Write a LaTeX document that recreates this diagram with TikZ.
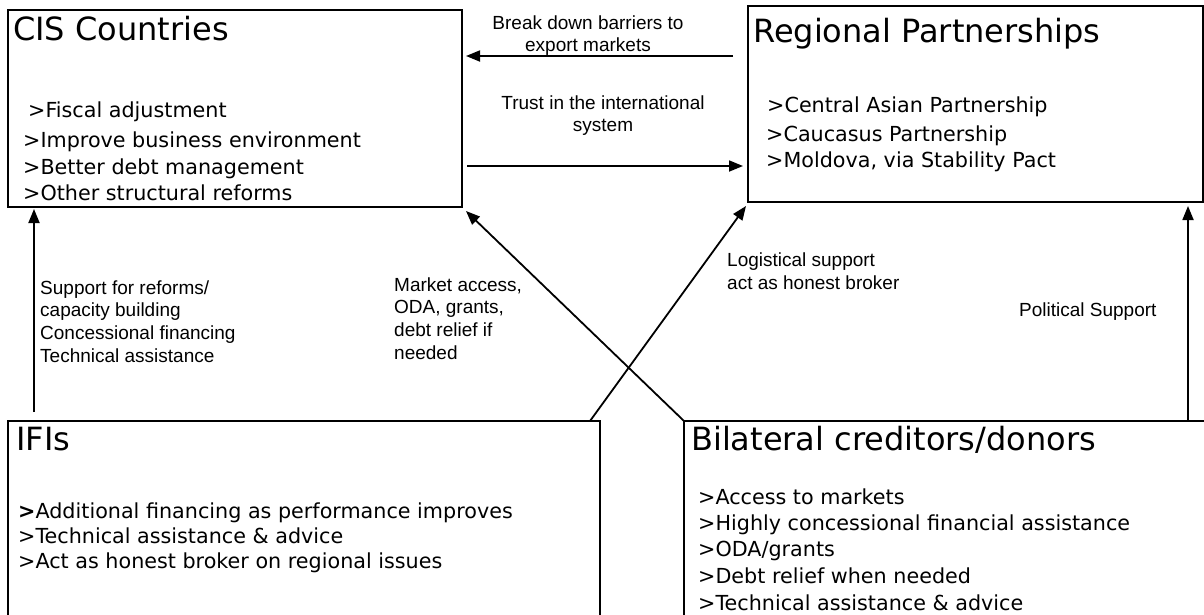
\documentclass[tikz,border=0pt]{standalone}
\usepackage{fontspec}
\usetikzlibrary{arrows.meta}
\newfontfamily\boxfont{DejaVu Sans}
\newfontfamily\lblfont{Liberation Sans}
\tikzset{
  box/.style={draw, line width=2pt, rectangle, anchor=north west, inner sep=0pt, outer sep=0pt},
  ttl/.style={font=\boxfont\fontsize{32}{38}\selectfont, inner sep=0pt, anchor=base west},
  itm/.style={font=\boxfont\fontsize{20.7}{25}\selectfont, inner sep=0pt, anchor=base west},
  lbl/.style={font=\lblfont\fontsize{19}{23}\selectfont, inner sep=0pt, anchor=base west},
  lblc/.style={lbl, anchor=base},
  arr/.style={line width=1.8pt, -{Triangle[length=14pt,width=11pt]}}
}
\begin{document}
\begin{tikzpicture}[x=1pt,y=1pt]
\clip (0,0) rectangle (1204,-614);
% boxes
\node[box, minimum width=454pt, minimum height=197pt] (cis) at (8,-10) {};
\node[box, minimum width=455pt, minimum height=196pt] (reg) at (748,-6) {};
\node[box, minimum width=592pt, minimum height=250pt] (ifi) at (8,-421) {};
\node[box, minimum width=560pt, minimum height=250pt] (bil) at (684,-421) {};
% titles
\node[ttl] (cist) at (13,-40) {CIS Countries};
\node[ttl] (regt) at (753,-42) {Regional Partnerships};
\node[ttl] (ifit) at (16,-450) {IFIs};
\node[ttl] (bilt) at (691,-450) {Bilateral creditors/donors};
% items
\node[itm] (cis1) at (28,-117) {>Fiscal adjustment};
\node[itm] (cis2) at (23,-147) {>Improve business environment};
\node[itm] (cis3) at (23,-174) {>Better debt management};
\node[itm] (cis4) at (23,-200) {>Other structural reforms};
\node[itm] (reg1) at (767,-112) {>Central Asian Partnership};
\node[itm] (reg2) at (766,-141) {>Caucasus Partnership};
\node[itm] (reg3) at (766,-167) {>Moldova, via Stability Pact};
\node[itm] (ifi1) at (18,-518) {\textbf{>}Additional financing as performance improves};
\node[itm] (ifi2) at (18,-543) {>Technical assistance \& advice};
\node[itm] (ifi3) at (18,-568) {>Act as honest broker on regional issues};
\node[itm] (bil1) at (698,-504) {>Access to markets};
\node[itm] (bil2) at (698,-530) {>Highly concessional financial assistance};
\node[itm] (bil3) at (698,-556) {>ODA/grants};
\node[itm] (bil4) at (698,-583) {>Debt relief when needed};
\node[itm] (bil5) at (698,-610) {>Technical assistance \& advice};
% connectors
\draw[arr] ([xshift=-15pt,yshift=-50pt]reg.north west) -- ([xshift=4pt,yshift=-46pt]cis.north east);
\draw[arr] ([xshift=5pt,yshift=-156pt]cis.north east) -- ([xshift=-5pt,yshift=-160pt]reg.north west);
\draw[arr] ([xshift=26pt,yshift=9pt]ifi.north west) -- ([xshift=26pt,yshift=-2pt]cis.south west);
\draw[arr] ([xshift=504pt]bil.north west) -- ([xshift=440pt,yshift=-4pt]reg.south west);
\draw[arr] (bil.north west) -- ([xshift=4pt,yshift=-4pt]cis.south east);
\draw[arr] ([xshift=-10pt]ifi.north east) -- ([xshift=-2pt,yshift=-4pt]reg.south west);
% labels
\node[lblc] (bd1) at (588,-29) {Break down barriers to};
\node[lblc] (bd2) at (588,-51) {export markets};
\node[lblc] (tr1) at (603,-109) {Trust in the international};
\node[lblc] (tr2) at (603,-131) {system};
\foreach \t [count=\i] in {Support for reforms/, capacity building, Concessional financing, Technical assistance}
  \node[lbl] (sup\i) at (40,{-294-22.7*(\i-1)}) {\t};
\foreach \t [count=\i] in {{Market access,}, {ODA, grants,}, {debt relief if}, needed}
  \node[lbl] (mkt\i) at (394,{-291-22.7*(\i-1)}) {\t};
\node[lbl] (log1) at (727,-266) {Logistical support};
\node[lbl] (log2) at (727,-289) {act as honest broker};
\node[lbl] (pol) at (1019,-316) {Political Support};
\end{tikzpicture}
\end{document}
